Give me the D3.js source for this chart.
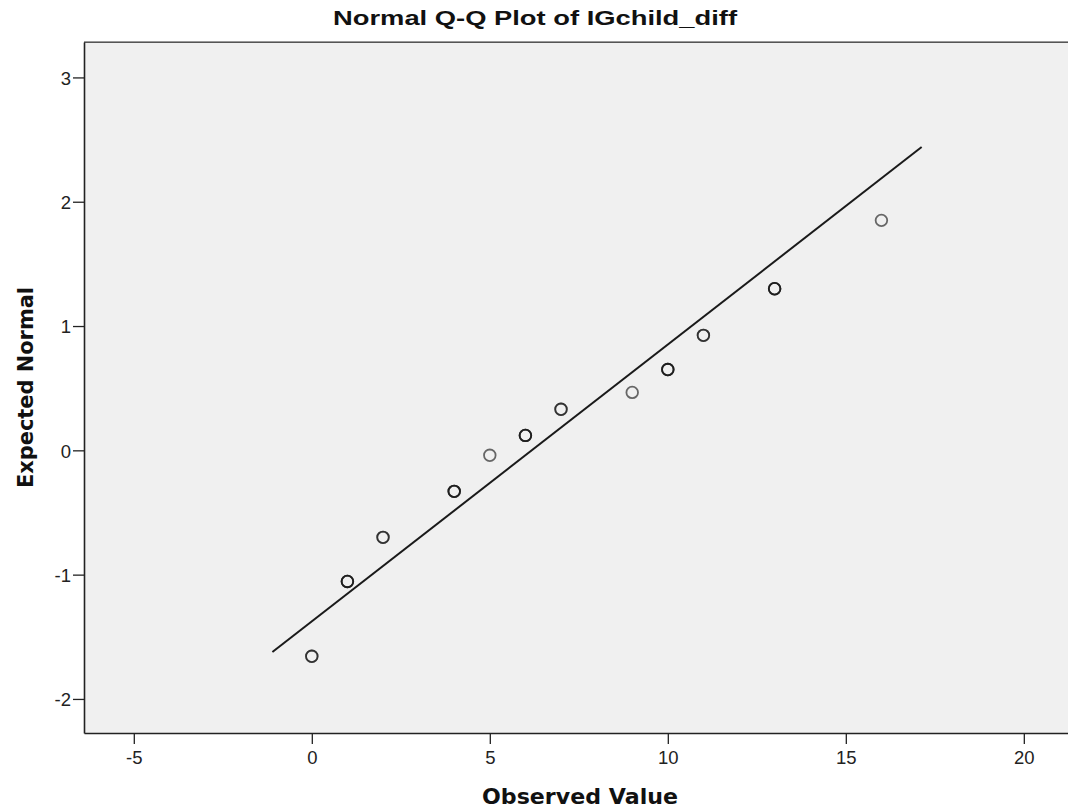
<!DOCTYPE html>
<html><head><meta charset="utf-8">
<script src="https://cdn.jsdelivr.net/npm/d3@7"></script>
<style>body{margin:0;background:#fff}svg{display:block}</style>
</head><body>
<svg id="c" width="1068" height="812"></svg>
<script>
const observed = [0, 1, 2, 4, 5, 6, 7, 9, 10, 11, 13, 16];
const expectedNormal = [-1.657, -1.055, -0.70, -0.33, -0.04, 0.12, 0.33, 0.466, 0.65, 0.925, 1.30, 1.85];
const counts = [2, 3, 2, 3, 1, 3, 2, 1, 3, 2, 3, 1];
const lineX = [-1.107, 17.13];
const lineY = [-1.623, 2.44];
const xTicks = [-5, 0, 5, 10, 15, 20];
const yTicks = [-2, -1, 0, 1, 2, 3];

const svg = d3.select("#c");
const L = 84, R = 1068, T = 42, B = 733;
const x = d3.scaleLinear().domain([-6.399, 21.241]).range([L, R]);
const y = d3.scaleLinear().domain([-2.274, 3.285]).range([B, T]);

svg.append("rect").attr("x", L).attr("y", T).attr("width", R - L).attr("height", B - T).attr("fill", "#f0f0f0");

// top border (double grey)
svg.append("line").attr("x1", L).attr("x2", R).attr("y1", T - 0.5).attr("y2", T - 0.5).attr("stroke", "#999").attr("stroke-width", 1);
svg.append("line").attr("x1", L).attr("x2", R).attr("y1", T + 0.5).attr("y2", T + 0.5).attr("stroke", "#555").attr("stroke-width", 1);

const xAxis = svg.append("g").attr("transform", `translate(0,${B})`)
  .call(d3.axisBottom(x).tickValues(xTicks).tickSize(11).tickSizeOuter(0));
const yAxis = svg.append("g").attr("transform", `translate(${L},0)`)
  .call(d3.axisLeft(y).tickValues(yTicks).tickSize(11).tickSizeOuter(0));
[xAxis, yAxis].forEach(g => {
  g.select(".domain").attr("stroke", "#222").attr("stroke-width", 1.6);
  g.selectAll(".tick line").attr("stroke", "#222").attr("stroke-width", 1.3);
  g.selectAll(".tick text").attr("fill", "#222").style("font-family", "Liberation Sans, Arial, sans-serif").style("font-size", "18.5px");
});
xAxis.selectAll(".tick text").attr("dy", null).attr("y", 31);
yAxis.selectAll(".tick text").attr("x", -13).attr("dy", "0.36em");
// plain hyphen minus as in the reference
svg.selectAll(".tick text").text(d => String(d));

// fit line
svg.append("line")
  .attr("x1", x(lineX[0])).attr("y1", y(lineY[0]))
  .attr("x2", x(lineX[1])).attr("y2", y(lineY[1]))
  .attr("stroke", "#1a1a1a").attr("stroke-width", 2);

// points (overlapping cases drawn stacked)
const pts = [];
observed.forEach((v, i) => { for (let k = 0; k < counts[i]; k++) pts.push({ x: v, y: expectedNormal[i] }); });
svg.append("g").selectAll("circle").data(pts).join("circle")
  .attr("cx", d => x(d.x)).attr("cy", d => y(d.y)).attr("r", 5.8)
  .attr("fill", "none").attr("stroke", "#111").attr("stroke-opacity", 0.62).attr("stroke-width", 1.8);

// titles
svg.append("text").attr("x", 535).attr("y", 25).attr("text-anchor", "middle")
  .attr("textLength", 404).attr("lengthAdjust", "spacingAndGlyphs")
  .style("font-family", "Liberation Sans, Arial, sans-serif").style("font-weight", "bold").style("font-size", "21px")
  .attr("fill", "#111").text("Normal Q-Q Plot of IGchild_diff");
svg.append("text").attr("x", 580).attr("y", 804).attr("text-anchor", "middle")
  .attr("textLength", 196).attr("lengthAdjust", "spacingAndGlyphs")
  .style("font-family", "DejaVu Sans, Verdana, sans-serif").style("font-weight", "bold").style("font-size", "21px")
  .attr("fill", "#111").text("Observed Value");
svg.append("text").attr("transform", "translate(33,387.5) rotate(-90)").attr("text-anchor", "middle")
  .attr("textLength", 201).attr("lengthAdjust", "spacingAndGlyphs")
  .style("font-family", "DejaVu Sans, Verdana, sans-serif").style("font-weight", "bold").style("font-size", "21px")
  .attr("fill", "#111").text("Expected Normal");
</script>
</body></html>
